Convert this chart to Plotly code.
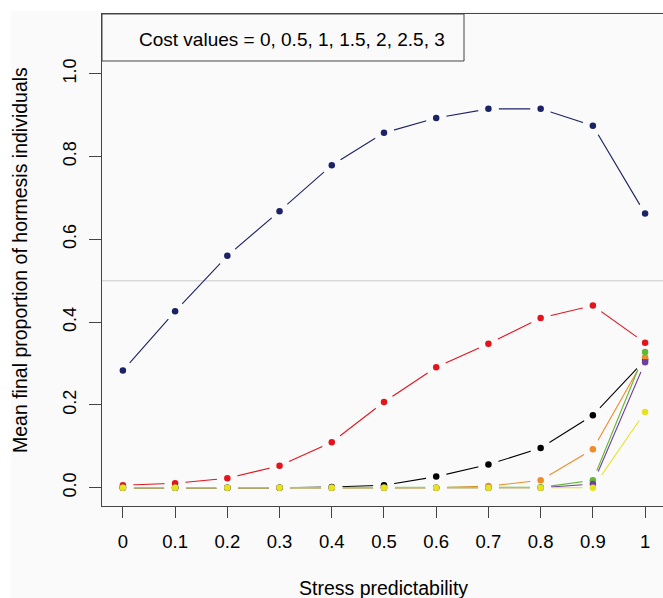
import plotly.graph_objects as go

# ---- data ----
predictability = [0, 0.1, 0.2, 0.3, 0.4, 0.5, 0.6, 0.7, 0.8, 0.9, 1]
x_tick_labels = ["0", "0.1", "0.2", "0.3", "0.4", "0.5", "0.6", "0.7", "0.8", "0.9", "1"]
y_tick_vals = [0, 0.2, 0.4, 0.6, 0.8, 1.0]
y_tick_labels = ["0.0", "0.2", "0.4", "0.6", "0.8", "1.0"]

cost_labels = ["0", "0.5", "1", "1.5", "2", "2.5", "3"]
cost_0 = [0.283, 0.426, 0.560, 0.668, 0.779, 0.857, 0.893, 0.915, 0.915, 0.874, 0.662]
cost_05 = [0.006, 0.011, 0.023, 0.053, 0.110, 0.207, 0.291, 0.348, 0.410, 0.440, 0.350]
cost_1 = [0.0, 0.0, 0.0, 0.0, 0.002, 0.006, 0.027, 0.056, 0.096, 0.175, 0.309]
cost_15 = [0.0, 0.0, 0.0, 0.0, 0.0, 0.0, 0.0, 0.004, 0.018, 0.093, 0.315]
cost_2 = [0.0, 0.0, 0.0, 0.0, 0.0, 0.0, 0.0, 0.0, 0.001, 0.018, 0.328]
cost_25 = [0.0, 0.0, 0.0, 0.0, 0.0, 0.0, 0.0, 0.0, 0.0, 0.009, 0.303]
cost_3 = [0.0, 0.0, 0.0, 0.0, 0.0, 0.0, 0.0, 0.0, 0.0, 0.0, 0.183]

series = [cost_0, cost_05, cost_1, cost_15, cost_2, cost_25, cost_3]
colors = ["#1c2266", "#e3141c", "#000000", "#f08c2a", "#62b830", "#6e3fa0", "#e6e21c"]

legend_text = "Cost values = " + ", ".join(cost_labels)

BG = "#fafafa"
AX = "#444444"
FONT = "Liberation Sans, Arial, sans-serif"

fig = go.Figure()

# lines
for vals, col in zip(series, colors):
    fig.add_trace(go.Scatter(x=predictability, y=vals, mode="lines",
                             line=dict(color=col, width=1.1), hoverinfo="skip",
                             showlegend=False))
# gaps around points (type = "b" look)
for vals in series:
    fig.add_trace(go.Scatter(x=predictability, y=vals, mode="markers",
                             marker=dict(color=BG, size=21, line=dict(width=0)),
                             hoverinfo="skip", showlegend=False))
# points
for vals, col in zip(series, colors):
    fig.add_trace(go.Scatter(x=predictability, y=vals, mode="markers",
                             marker=dict(color=col, size=6.5, line=dict(width=0)),
                             showlegend=False))

fig.update_layout(
    width=663, height=598, autosize=False,
    margin=dict(l=102, r=0, t=14, b=92),
    paper_bgcolor="white", plot_bgcolor=BG,
    font=dict(family=FONT, color="black", size=18),
    showlegend=False,
    xaxis=dict(range=[-0.04, 1.0343], tickmode="array", tickvals=predictability,
               ticktext=x_tick_labels, ticks="outside", ticklen=11, tickcolor=AX,
               tickwidth=1, showline=True, linecolor=AX, linewidth=1, mirror=True,
               showgrid=False, zeroline=False, tickfont=dict(size=18.5),
               ticklabelstandoff=8),
    yaxis=dict(range=[-0.044, 1.144], tickmode="array", tickvals=y_tick_vals,
               ticktext=y_tick_labels, ticks="outside", ticklen=12, tickcolor=AX,
               tickwidth=1, showline=True, linecolor=AX, linewidth=1,
               showgrid=False, zeroline=False, tickangle=-90,
               tickfont=dict(size=18), ticklabelstandoff=6),
    shapes=[
        dict(type="rect", xref="paper", yref="paper", x0=-0.1622, x1=1.02,
             y0=-0.25, y1=1.006, fillcolor=BG, line=dict(width=0), layer="below"),
        dict(type="line", xref="paper", yref="y", x0=0, x1=1, y0=0.5, y1=0.5,
             line=dict(color="#d9d9d9", width=1.5), layer="below"),
        dict(type="rect", xref="paper", yref="paper", x0=0, x1=0.6453,
             y0=0.9045, y1=1.0, fillcolor=BG, line=dict(color=AX, width=1),
             layer="above"),
    ],
    annotations=[
        dict(text=legend_text, xref="paper", yref="paper", x=0.0624, y=0.949,
             xanchor="left", yanchor="middle", showarrow=False,
             font=dict(size=19, family=FONT, color="black")),
        dict(text="Stress predictability", xref="x", yref="paper", x=0.5, y=0,
             yshift=-82, xanchor="center", yanchor="middle", showarrow=False,
             font=dict(size=19.5, family=FONT, color="black")),
        dict(text="Mean final proportion of hormesis individuals", xref="paper",
             yref="paper", x=0, xshift=-82, y=0.5, textangle=-90,
             xanchor="center", yanchor="middle", showarrow=False,
             font=dict(size=19.5, family=FONT, color="black")),
    ],
)

fig.write_html("out.html", config={"displayModeBar": False},
               post_script="document.body.style.margin='0';"
                           "document.body.style.overflow='hidden';")
